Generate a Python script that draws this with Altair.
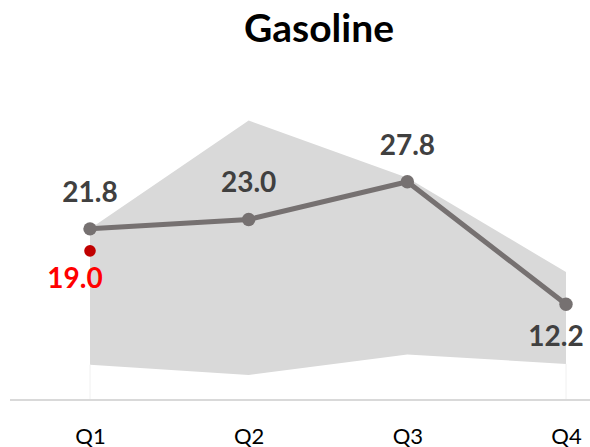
import altair as alt
import pandas as pd

# Quarterly gasoline figures: actuals, historical range band and a target marker
quarters = ["Q1", "Q2", "Q3", "Q4"]
actual = [21.8, 23.0, 27.8, 12.2]
range_high = [21.8, 35.6, 28.3, 16.3]
range_low = [4.5, 3.2, 5.8, 4.6]
target_quarter = ["Q1"]
target_value = [19.0]

FONT = "Lato"
LINE_GREY = "#767171"
LABEL_GREY = "#404040"

df = pd.DataFrame({"quarter": quarters, "actual": actual,
                   "high": range_high, "low": range_low})
df_target = pd.DataFrame({"quarter": target_quarter, "target": target_value})

x = alt.X("quarter:O",
          scale=alt.Scale(type="point", domain=quarters, range=[80, 556],
                          padding=0),
          sort=quarters,
          axis=alt.Axis(title=None, domain=False, ticks=False, grid=False,
                        labelAngle=0, labelFont=FONT, labelFontSize=22,
                        labelColor="#000000", labelBaseline="alphabetic",
                        labelPadding=43))
y_scale = alt.Scale(domain=[0, 40], nice=False, zero=True)

base = alt.Chart(df)

band = base.mark_area(color="#d9d9d9", opacity=1).encode(
    x=x,
    y=alt.Y("high:Q", scale=y_scale, axis=None),
    y2="low:Q",
)

edges = base.mark_rule(color="#f0f0f0", strokeWidth=1).encode(
    x=x,
    y=alt.Y("low:Q", scale=y_scale, axis=None),
    y2=alt.datum(0),
).transform_filter(alt.FieldOneOfPredicate(field="quarter", oneOf=["Q1", "Q4"]))

baseline = base.mark_rule(color="#d9d9d9", strokeWidth=2).encode(
    x=alt.value(0), x2=alt.value(580), y=alt.value(314)
)

line = base.mark_line(color=LINE_GREY, strokeWidth=5).encode(
    x=x, y=alt.Y("actual:Q", scale=y_scale, axis=None)
)
points = base.mark_circle(color=LINE_GREY, opacity=1, size=180).encode(
    x=x, y=alt.Y("actual:Q", scale=y_scale, axis=None)
)

labels_above = base.mark_text(
    font=FONT, fontSize=28, fontWeight="bold", color=LABEL_GREY,
    baseline="alphabetic", dy=-27
).encode(
    x=x, y=alt.Y("actual:Q", scale=y_scale, axis=None),
    text=alt.Text("actual:Q", format=".1f"),
).transform_filter(alt.FieldOneOfPredicate(field="quarter", oneOf=["Q1", "Q2", "Q3"]))

labels_below = base.mark_text(
    font=FONT, fontSize=28, fontWeight="bold", color=LABEL_GREY,
    baseline="alphabetic", dy=42, dx=-10
).encode(
    x=x, y=alt.Y("actual:Q", scale=y_scale, axis=None),
    text=alt.Text("actual:Q", format=".1f"),
).transform_filter(alt.FieldEqualPredicate(field="quarter", equal="Q4"))

target_base = alt.Chart(df_target)
target_point = target_base.mark_circle(color="#c00000", opacity=1, size=135).encode(
    x=x, y=alt.Y("target:Q", scale=y_scale, axis=None)
)
target_label = target_base.mark_text(
    font=FONT, fontSize=28, fontWeight="bold", color="#ff0000",
    baseline="alphabetic", dy=37, dx=-15
).encode(
    x=x, y=alt.Y("target:Q", scale=y_scale, axis=None),
    text=alt.Text("target:Q", format=".1f"),
)

title = base.mark_text(
    font=FONT, fontSize=39, fontWeight="bold", color="#000000",
    baseline="alphabetic", align="center"
).encode(
    x=alt.value(309), y=alt.value(-44), text=alt.value("Gasoline")
).transform_filter(alt.FieldEqualPredicate(field="quarter", equal="Q1"))

chart = alt.layer(
    band, edges, baseline, line, points, labels_above, labels_below,
    target_point, target_label, title
).properties(
    width=580, height=314,
    background="#ffffff",
    autosize=alt.AutoSizeParams(type="none"),
    padding={"left": 10, "top": 86, "right": 0, "bottom": 47},
).configure_view(stroke=None)

chart.save("out.html", embed_options={"renderer": "svg", "actions": False})
